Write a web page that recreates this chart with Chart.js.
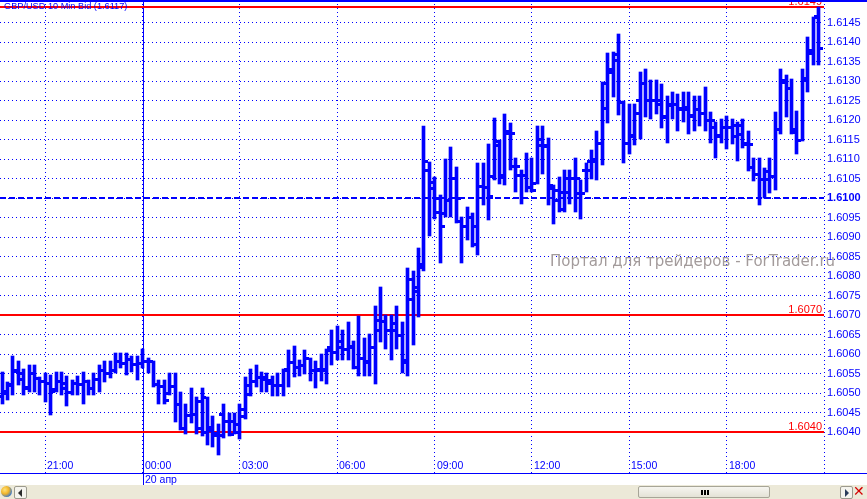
<!DOCTYPE html>
<html>
<head>
<meta charset="utf-8">
<script src="https://cdn.jsdelivr.net/npm/chart.js@4/dist/chart.umd.min.js"></script>
<style>
body{margin:0;background:#fff;}
#wrap{position:relative;width:867px;height:499px;overflow:hidden;}
#scroll{position:absolute;left:0;top:485px;width:867px;height:14px;background:#ece9d8;}
#scroll .icon{position:absolute;left:1px;top:1px;width:11px;height:11px;border-radius:6px;background:radial-gradient(circle at 35% 35%,#ffe27a 0,#f0b429 40%,#3b78c9 75%);}
#scroll .btn{position:absolute;top:1px;width:11px;height:11px;border:1px solid #9c9a8e;border-radius:2px;background:#f5f4ee;}
#scroll .btn span{position:absolute;top:2px;width:0;height:0;border-top:4px solid transparent;border-bottom:4px solid transparent;}
#scroll .left span{left:3px;border-right:4px solid #2b2b2b;}
#scroll .right span{left:4px;border-left:4px solid #2b3b5b;}
#scroll .thumb{position:absolute;left:638px;top:1px;width:130px;height:10px;border:1px solid #a7a597;border-radius:2px;background:linear-gradient(#f6f5f0,#e4e2d6);}
#scroll .thumb i{position:absolute;top:3px;width:2px;height:5px;background:#000;}
#scroll .close{position:absolute;left:853px;top:-2px;font:bold 14px "DejaVu Sans";color:#d40000;}
</style>
</head>
<body>
<div id="wrap">
<canvas id="chart" width="867" height="499"></canvas>
<div id="scroll">
  <div class="icon"></div>
  <div class="btn left" style="left:14px"><span></span></div>
  <div class="thumb"><i style="left:62px"></i><i style="left:65px"></i><i style="left:68px"></i></div>
  <div class="btn right" style="left:840px"><span></span></div>
  <div class="close">✕</div>
</div>
</div>
<script>
const title = 'GBP/USD 10 Min Bid (1.6117)'
const dayLabel = '20 апр'
const watermark = 'Портал для трейдеров - ForTrader.ru'
const firstBar = '19:40'   // 10 min bars, bar 26 is 00:00 on 20 apr
const midnightBar = 26

const highs = [
1.60555, 1.60529, 1.60594, 1.60581, 1.60561, 1.60572, 1.60572, 1.60542, 1.60551, 1.60547,
1.60553, 1.60553, 1.60544, 1.60534, 1.60544, 1.60554, 1.60534, 1.60551, 1.60572, 1.60581,
1.60581, 1.60603, 1.60603, 1.60603, 1.60594, 1.60594, 1.60613, 1.60590, 1.60581, 1.60534,
1.60534, 1.60551, 1.60551, 1.60503, 1.60473, 1.60512, 1.60491, 1.60512, 1.60491, 1.60441,
1.60420, 1.60472, 1.60450, 1.60450, 1.60472, 1.60541, 1.60562, 1.60571, 1.60553, 1.60551,
1.60545, 1.60551, 1.60562, 1.60611, 1.60621, 1.60584, 1.60611, 1.60591, 1.60581, 1.60601,
1.60612, 1.60661, 1.60672, 1.60661, 1.60682, 1.60634, 1.60697, 1.60640, 1.60651, 1.60723,
1.60772, 1.60700, 1.60700, 1.60722, 1.60683, 1.60821, 1.60812, 1.60873, 1.61184, 1.61093,
1.61054, 1.61008, 1.61100, 1.61131, 1.61080, 1.60951, 1.60977, 1.60961, 1.61090, 1.61090,
1.61138, 1.61205, 1.61149, 1.61216, 1.61192, 1.61103, 1.61072, 1.61115, 1.61103, 1.61184,
1.61184, 1.61153, 1.61033, 1.61054, 1.61072, 1.61072, 1.61103, 1.61046, 1.61089, 1.61123,
1.61171, 1.61298, 1.61372, 1.61374, 1.61422, 1.61250, 1.61241, 1.61241, 1.61323, 1.61332,
1.61302, 1.61302, 1.61293, 1.61263, 1.61272, 1.61267, 1.61272, 1.61272, 1.61263, 1.61263,
1.61284, 1.61220, 1.61194, 1.61203, 1.61211, 1.61203, 1.61194, 1.61203, 1.61172, 1.61103,
1.61103, 1.61078, 1.61103, 1.61220, 1.61332, 1.61315, 1.61306, 1.61224, 1.61332, 1.61414,
1.61465, 1.61490]

const lows = [
1.60473, 1.60482, 1.60495, 1.60521, 1.60495, 1.60503, 1.60503, 1.60495, 1.60478, 1.60445,
1.60503, 1.60495, 1.60466, 1.60495, 1.60495, 1.60473, 1.60495, 1.60495, 1.60503, 1.60529,
1.60538, 1.60551, 1.60564, 1.60547, 1.60555, 1.60534, 1.60564, 1.60551, 1.60516, 1.60473,
1.60473, 1.60495, 1.60426, 1.60404, 1.60396, 1.60422, 1.60396, 1.60391, 1.60368, 1.60361,
1.60342, 1.60385, 1.60390, 1.60394, 1.60381, 1.60433, 1.60493, 1.60515, 1.60502, 1.60502,
1.60493, 1.60493, 1.60493, 1.60515, 1.60542, 1.60545, 1.60549, 1.60532, 1.60513, 1.60532,
1.60523, 1.60572, 1.60584, 1.60584, 1.60584, 1.60562, 1.60545, 1.60545, 1.60545, 1.60523,
1.60631, 1.60614, 1.60584, 1.60614, 1.60552, 1.60545, 1.60622, 1.60696, 1.60813, 1.60903,
1.60947, 1.60833, 1.60951, 1.60951, 1.60936, 1.60833, 1.60892, 1.60874, 1.60854, 1.60982,
1.60944, 1.61046, 1.61037, 1.61033, 1.61072, 1.61016, 1.60985, 1.61016, 1.61016, 1.61037,
1.61063, 1.60981, 1.60934, 1.60964, 1.60964, 1.60985, 1.60964, 1.60947, 1.61016, 1.61050,
1.61046, 1.61084, 1.61192, 1.61260, 1.61214, 1.61090, 1.61112, 1.61135, 1.61151, 1.61207,
1.61203, 1.61216, 1.61181, 1.61142, 1.61203, 1.61172, 1.61194, 1.61164, 1.61172, 1.61185,
1.61172, 1.61142, 1.61103, 1.61142, 1.61125, 1.61138, 1.61095, 1.61129, 1.61069, 1.61043,
1.60983, 1.61000, 1.61013, 1.61022, 1.61164, 1.61207, 1.61164, 1.61112, 1.61147, 1.61272,
1.61341, 1.61341]

const opens = [
1.60490, 1.60500, 1.60520, 1.60555, 1.60534, 1.60515, 1.60551, 1.60538, 1.60529, 1.60525,
1.60508, 1.60529, 1.60512, 1.60501, 1.60525, 1.60521, 1.60529, 1.60512, 1.60534, 1.60559,
1.60551, 1.60559, 1.60581, 1.60577, 1.60585, 1.60572, 1.60577, 1.60581, 1.60581, 1.60521,
1.60516, 1.60500, 1.60516, 1.60470, 1.60409, 1.60443, 1.60445, 1.60478, 1.60489, 1.60411,
1.60396, 1.60446, 1.60428, 1.60428, 1.60398, 1.60459, 1.60497, 1.60530, 1.60541, 1.60535,
1.60525, 1.60519, 1.60520, 1.60560, 1.60579, 1.60566, 1.60570, 1.60588, 1.60558, 1.60560,
1.60560, 1.60618, 1.60605, 1.60631, 1.60611, 1.60620, 1.60566, 1.60588, 1.60580, 1.60618,
1.60687, 1.60683, 1.60660, 1.60661, 1.60648, 1.60584, 1.60791, 1.60770, 1.60822, 1.61070,
1.61024, 1.60964, 1.60960, 1.60995, 1.61050, 1.60940, 1.60926, 1.60949, 1.60880, 1.61030,
1.61028, 1.61055, 1.61136, 1.61059, 1.61166, 1.61080, 1.61059, 1.61059, 1.61028, 1.61037,
1.61136, 1.61132, 1.61024, 1.61020, 1.61015, 1.61050, 1.61050, 1.61011, 1.61072, 1.61093,
1.61100, 1.61140, 1.61295, 1.61330, 1.61367, 1.61245, 1.61140, 1.61160, 1.61250, 1.61293,
1.61250, 1.61250, 1.61241, 1.61210, 1.61240, 1.61241, 1.61230, 1.61233, 1.61210, 1.61228,
1.61216, 1.61198, 1.61180, 1.61160, 1.61180, 1.61181, 1.61185, 1.61185, 1.61140, 1.61078,
1.61060, 1.61047, 1.61069, 1.61056, 1.61177, 1.61302, 1.61280, 1.61168, 1.61147, 1.61306,
1.61370, 1.61465]

const closes = [
1.60503, 1.60521, 1.60559, 1.60551, 1.60512, 1.60551, 1.60538, 1.60529, 1.60525, 1.60503,
1.60529, 1.60525, 1.60501, 1.60525, 1.60521, 1.60529, 1.60512, 1.60534, 1.60559, 1.60551,
1.60559, 1.60581, 1.60577, 1.60585, 1.60572, 1.60577, 1.60581, 1.60581, 1.60521, 1.60516,
1.60482, 1.60516, 1.60470, 1.60409, 1.60443, 1.60445, 1.60409, 1.60400, 1.60404, 1.60390,
1.60390, 1.60428, 1.60394, 1.60420, 1.60441, 1.60519, 1.60530, 1.60541, 1.60541, 1.60532,
1.60519, 1.60519, 1.60558, 1.60579, 1.60566, 1.60571, 1.60588, 1.60558, 1.60558, 1.60559,
1.60609, 1.60605, 1.60618, 1.60611, 1.60618, 1.60566, 1.60588, 1.60579, 1.60618, 1.60660,
1.60683, 1.60661, 1.60678, 1.60648, 1.60579, 1.60740, 1.60760, 1.60830, 1.61093, 1.61040,
1.60998, 1.60926, 1.60995, 1.61050, 1.61000, 1.60926, 1.60949, 1.60928, 1.61030, 1.61028,
1.61003, 1.61145, 1.61054, 1.61171, 1.61166, 1.61080, 1.61059, 1.61028, 1.61020, 1.61149,
1.61136, 1.61033, 1.60994, 1.60972, 1.61015, 1.61050, 1.61050, 1.61011, 1.61072, 1.61093,
1.61141, 1.61230, 1.61323, 1.61354, 1.61244, 1.61140, 1.61159, 1.61216, 1.61293, 1.61250,
1.61250, 1.61250, 1.61207, 1.61237, 1.61241, 1.61228, 1.61228, 1.61211, 1.61228, 1.61216,
1.61198, 1.61198, 1.61159, 1.61181, 1.61181, 1.61159, 1.61164, 1.61138, 1.61138, 1.61060,
1.61047, 1.61047, 1.61056, 1.61177, 1.61297, 1.61280, 1.61177, 1.61147, 1.61302, 1.61379,
1.61464, 1.61384]

const levels = [1.6149, 1.6070, 1.6040]
const pivot = 1.6100
const yTicks = [1.6040, 1.6045, 1.6050, 1.6055, 1.6060, 1.6065, 1.6070, 1.6075, 1.6080, 1.6085, 1.6090,
  1.6095, 1.6100, 1.6105, 1.6110, 1.6115, 1.6120, 1.6125, 1.6130, 1.6135, 1.6140, 1.6145]
const xTicks = [-3, 0, 3, 6, 9, 12, 15, 18, 21]   // hours from 00:00 20 apr
const xLabels = ['21:00', '00:00', '03:00', '06:00', '09:00', '12:00', '15:00', '18:00', '']

const FONT = '"Liberation Sans", Arial, sans-serif'
const blue = '#0000ff'
const red = '#ff0000'

// hours from midnight for every bar
const hours = highs.map((v, i) => (i - midnightBar) / 6)

function tickImg(right) {
  const c = document.createElement('canvas')
  c.width = 9
  c.height = 3
  const g = c.getContext('2d')
  g.fillStyle = blue
  g.fillRect(right ? 6 : 0, 0, 3, 3)
  return c
}

const extras = {
  id: 'extras',
  beforeDatasetsDraw(chart) {
    const ctx = chart.ctx, xs = chart.scales.x, ys = chart.scales.y, area = chart.chartArea
    ctx.save()
    // day separator
    const sx = Math.round(xs.getPixelForValue(0)) + 0.5
    ctx.strokeStyle = blue
    ctx.lineWidth = 1
    ctx.beginPath(); ctx.moveTo(sx, area.top); ctx.lineTo(sx, 485); ctx.stroke()
    // 1.6100 dashed line
    const py = Math.round(ys.getPixelForValue(pivot))
    ctx.setLineDash([6, 3])
    ctx.lineWidth = 2
    ctx.beginPath(); ctx.moveTo(area.left, py); ctx.lineTo(area.right, py); ctx.stroke()
    ctx.setLineDash([])
    // red levels
    ctx.font = '11px ' + FONT
    ctx.textAlign = 'right'
    ctx.textBaseline = 'alphabetic'
    ctx.fillStyle = red
    levels.forEach(v => {
      const ly = Math.round(ys.getPixelForValue(v))
      ctx.fillRect(area.left, ly - 1, area.right - area.left, 2)
      ctx.fillText(v.toFixed(4), area.right - 2, ly - 2)
    })
    ctx.restore()
    // keep bars and ticks on whole pixels
    chart.getSortedVisibleDatasetMetas().forEach(meta => {
      meta.data.forEach(el => {
        el.x = Math.floor(el.x) + 0.5
        if (meta.type === 'bar') {
          el.y = Math.round(el.y)
          el.base = Math.round(el.base)
        } else {
          el.y = Math.floor(el.y) + 0.5
        }
      })
    })
  },
  afterDraw(chart) {
    const ctx = chart.ctx, xs = chart.scales.x, area = chart.chartArea
    ctx.save()
    ctx.fillStyle = blue
    ctx.fillRect(0, 0, chart.width, 2)
    ctx.fillRect(0, area.bottom, chart.width, 1)
    ctx.textAlign = 'left'
    ctx.textBaseline = 'top'
    // time labels sit inside the plot, just right of their grid line
    ctx.font = '10.5px ' + FONT
    xTicks.forEach((v, i) => {
      ctx.fillText(xLabels[i], Math.round(xs.getPixelForValue(v)) + 2, area.bottom - 12)
    })
    ctx.fillText(dayLabel, Math.round(xs.getPixelForValue(0)) + 2, area.bottom + 2)
    ctx.font = '9.2px ' + FONT
    ctx.fillText(title, 4, 2)
    ctx.textBaseline = 'alphabetic'
    ctx.font = '15px "DejaVu Sans"'
    ctx.fillStyle = '#a39b9b'
    ctx.fillText(watermark, 550, 266)
    ctx.restore()
  }
}

function isPivot(ctx) {
  return ctx.tick && Math.abs(ctx.tick.value - pivot) < 1e-7
}

new Chart(document.getElementById('chart'), {
  type: 'bar',
  data: {
    datasets: [
      {
        type: 'bar',
        data: hours.map((h, i) => ({ x: h, y: [lows[i], highs[i]] })),
        backgroundColor: blue,
        borderWidth: 0,
        barThickness: 3
      },
      {
        type: 'line',
        data: hours.map((h, i) => ({ x: h, y: opens[i] })),
        showLine: false,
        pointStyle: tickImg(false),
        pointRadius: 3
      },
      {
        type: 'line',
        data: hours.map((h, i) => ({ x: h, y: closes[i] })),
        showLine: false,
        pointStyle: tickImg(true),
        pointRadius: 3
      }
    ]
  },
  options: {
    responsive: false,
    animation: false,
    events: [],
    layout: { padding: 0, autoPadding: false },
    plugins: { legend: { display: false }, tooltip: { enabled: false } },
    scales: {
      x: {
        type: 'linear',
        offset: false,
        min: -4.395,
        max: 21,
        afterBuildTicks: axis => { axis.ticks = xTicks.map(v => ({ value: v })) },
        afterFit: axis => { axis.height = 26; axis.paddingLeft = 0; axis.paddingRight = 0 },
        grid: { offset: false, color: blue, lineWidth: 1, drawTicks: false },
        border: { display: false, dash: [1, 3] },
        ticks: { display: false }
      },
      y: {
        position: 'right',
        min: 1.60295,
        max: 1.61508,
        afterBuildTicks: axis => { axis.ticks = yTicks.map(v => ({ value: v })) },
        afterFit: axis => { axis.width = 43; axis.paddingTop = 0; axis.paddingBottom = 0 },
        grid: { color: blue, lineWidth: 1, drawTicks: false },
        border: { display: false, dash: [1, 3] },
        ticks: {
          padding: 3,
          color: blue,
          font: ctx => ({ family: FONT, size: 11, weight: isPivot(ctx) ? 'bold' : 'normal' }),
          callback: v => v.toFixed(4)
        }
      }
    }
  },
  plugins: [extras]
})
</script>
</body>
</html>
